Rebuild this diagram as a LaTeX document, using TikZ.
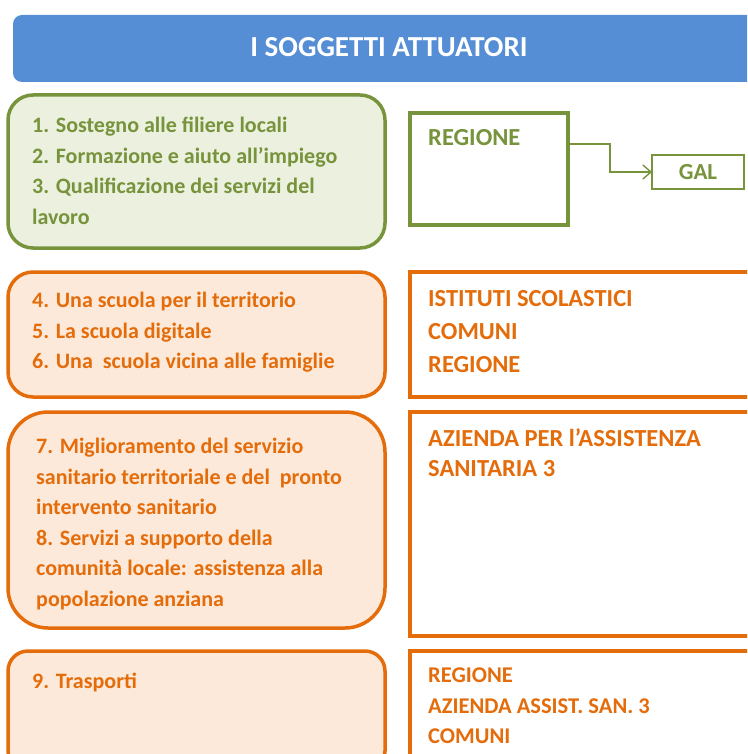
\documentclass[tikz,border=0pt]{standalone}
\usepackage{fontspec}
\setmainfont{Carlito}
\usetikzlibrary{positioning, arrows.meta, calc}
\definecolor{hdrblue}{RGB}{85,142,213}
\definecolor{olive}{RGB}{119,147,60}
\definecolor{olivefill}{RGB}{235,241,222}
\definecolor{tangerine}{RGB}{228,108,10}
\definecolor{peach}{RGB}{253,233,217}
\tikzset{
    header/.style={fill=hdrblue, rounded corners=9pt, anchor=north west, outer sep=0pt, minimum width=770pt, minimum height=67pt},
    gbox/.style={draw=olive, fill=olivefill, line width=3.5pt, rounded corners=25pt, anchor=north west, outer sep=0pt, minimum width=377pt},
    obox/.style={gbox, draw=tangerine, fill=peach},
    gframe/.style={draw=olive, fill=white, line width=3.5pt, anchor=north west, outer sep=0pt},
    oframe/.style={gframe, draw=tangerine, minimum width=360pt},
    gtext/.style={text=olive, font=\fontsize{22}{30.5}\selectfont\bfseries, align=left, anchor=north west, inner sep=0pt},
    otext/.style={gtext, text=tangerine},
    bigtext/.style={font=\fontsize{24.5}{30.5}\selectfont\bfseries},
    link/.style={draw=olive, line width=1.4pt, -{Straight Barb[length=8pt, width=14pt]}},
}
\begin{document}
\begin{tikzpicture}[x=1pt, y=1pt]
    \useasboundingbox (0,0) rectangle (747,-754);
    \clip (0,0) rectangle (747,-754);

    \node[header] (hdr) at (13,-15) {};
    \node[text=white, font=\fontsize{29}{32}\selectfont\bfseries] (title) at (389,-47) {I SOGGETTI ATTUATORI};

    \node[gbox, minimum height=153pt] (g1) at (8,-95) {};
    \node[gtext] (g1t) at ([shift={(24,-22)}]g1.north west)
        {1. Sostegno alle filiere locali\\2. Formazione e aiuto all’impiego\\3. Qualificazione dei servizi del\\lavoro};

    \node[gframe, minimum width=158pt, minimum height=112pt] (reg) at (410,-113) {};
    \node[gtext, bigtext] (regt) at ([shift={(18,-16)}]reg.north west) {REGIONE};
    \node[gframe, line width=1.4pt, minimum width=92pt, minimum height=34pt, text=olive,
          font=\fontsize{23}{26}\selectfont\bfseries] (gal) at (652,-155) {GAL};
    \draw[link] ([yshift=25pt]reg.east) -| ([xshift=-42pt]gal.west) -- (gal.west);

    \node[obox, minimum height=125pt] (o1) at (8,-272) {};
    \node[otext] (o1t) at ([shift={(24,-20)}]o1.north west)
        {4. Una scuola per il territorio\\5. La scuola digitale\\6. Una\ \ scuola vicina alle famiglie};
    \node[oframe, minimum height=125pt] (r1) at ([xshift=25pt]o1.north east) {};
    \node[otext, bigtext] (r1t) at ([shift={(18,-18)}]r1.north west)
        {ISTITUTI SCOLASTICI\\[2.5pt]COMUNI\\[2.5pt]REGIONE};

    \node[obox, rounded corners=40pt, minimum height=216pt] (o2) at (8,-412) {};
    \node[otext] (o2t) at ([shift={(28,-26)}]o2.north west)
        {7. Miglioramento del servizio\\sanitario territoriale e del\ \ pronto\\intervento sanitario\\8. Servizi a supporto della\\comunità locale: assistenza alla\\popolazione anziana};
    \node[oframe, minimum height=224pt] (r2) at ([xshift=25pt]o2.north east) {};
    \node[otext, bigtext] (r2t) at ([shift={(18,-16)}]r2.north west)
        {AZIENDA PER l’ASSISTENZA\\SANITARIA 3};

    \node[obox, rounded corners=20pt, minimum height=120pt] (o3) at (8,-651) {};
    \node[otext] (o3t) at ([shift={(24,-22)}]o3.north west) {9. Trasporti};
    \node[oframe, minimum height=120pt] (r3) at ([xshift=25pt]o3.north east) {};
    \node[otext, font=\fontsize{22.5}{30.5}\selectfont\bfseries] (r3t) at ([shift={(18,-17)}]r3.north west)
        {REGIONE\\AZIENDA ASSIST. SAN. 3\\COMUNI};
\end{tikzpicture}
\end{document}
